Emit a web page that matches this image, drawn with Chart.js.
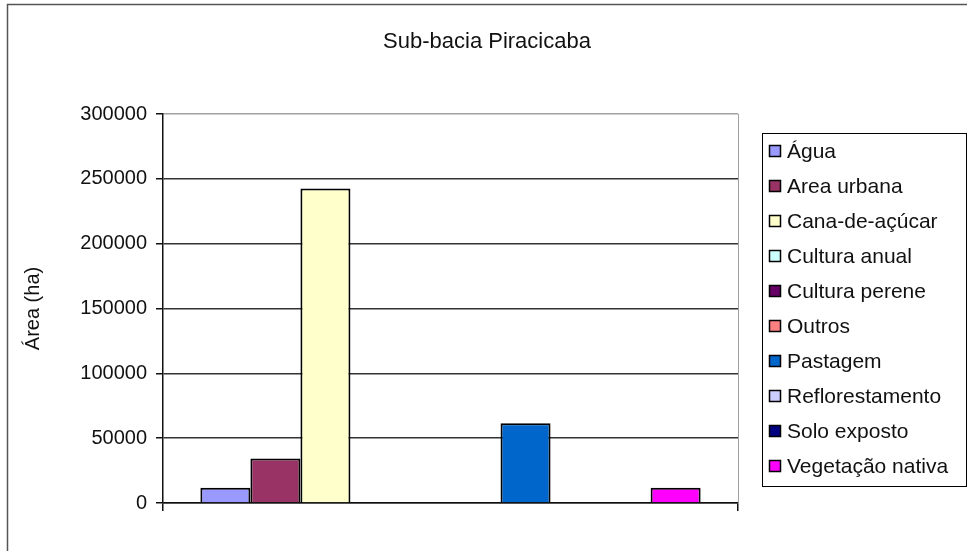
<!DOCTYPE html>
<html>
<head>
<meta charset="utf-8">
<script src="https://cdn.jsdelivr.net/npm/chart.js@4.4.1/dist/chart.umd.min.js"></script>
<style>
  html, body { margin: 0; padding: 0; background: #fff; }
</style>
</head>
<body>
<canvas id="areaChart" width="967" height="551"></canvas>
<script>
  // Uso do solo na sub-bacia (área em hectares)
  const categorias = ['Piracicaba'];
  const classes = ['Água', 'Area urbana', 'Cana-de-açúcar', 'Cultura anual', 'Cultura perene',
                   'Outros', 'Pastagem', 'Reflorestamento', 'Solo exposto', 'Vegetação nativa'];
  const areas = [11700, 34300, 242500, 0, 0, 0, 61500, 0, 0, 11700];
  const cores = ['#9999ff', '#993366', '#ffffcc', '#ccffff', '#660066',
                 '#ff8080', '#0066cc', '#ccccff', '#000080', '#ff00ff'];
  const ticksY = [0, 50000, 100000, 150000, 200000, 250000, 300000];

  const fonte = '"Liberation Sans", Arial, sans-serif';

  // título, moldura e legenda desenhados à mão
  const moldura = {
    id: 'moldura',
    beforeDraw(chart) {
      const c = chart.ctx;
      c.save();
      c.fillStyle = '#fff';
      c.fillRect(0, 0, chart.width, chart.height);
      c.restore();
    },
    afterDraw(chart) {
      const c = chart.ctx;
      const area = chart.chartArea;
      c.save();

      // borda externa
      c.strokeStyle = '#555';
      c.lineWidth = 1.5;
      c.beginPath();
      c.moveTo(7.5, chart.height + 5);
      c.lineTo(7.5, 4.5);
      c.lineTo(chart.width + 5, 4.5);
      c.stroke();

      // lado direito da área de plotagem
      c.strokeStyle = '#a0a0a0';
      c.lineWidth = 1;
      c.beginPath();
      c.moveTo(area.right + 0.5, area.top);
      c.lineTo(area.right + 0.5, area.bottom);
      c.stroke();

      // título
      c.fillStyle = '#111';
      c.font = '22px ' + fonte;
      c.textAlign = 'center';
      c.textBaseline = 'middle';
      c.fillText('Sub-bacia Piracicaba', 487, 42);

      // legenda
      const lx = 762, ly = 133, lw = 204, lh = 353;
      c.strokeStyle = '#000';
      c.lineWidth = 1;
      c.strokeRect(lx + 0.5, ly + 0.5, lw, lh);
      c.font = '21px ' + fonte;
      c.textAlign = 'left';
      chart.data.datasets.forEach((ds, i) => {
        const y = Math.round(150.5 + i * 35.1);
        c.fillStyle = ds.backgroundColor;
        c.fillRect(769, y - 6, 12, 12);
        c.lineWidth = 1.5;
        c.strokeRect(769.5, y - 5.5, 11, 11);
        c.fillStyle = '#111';
        c.fillText(ds.label, 787, y + 1);
      });
      c.restore();
    }
  };

  const ctx = document.getElementById('areaChart').getContext('2d');
  const areaChart = new Chart(ctx, {
    type: 'bar',
    data: {
      labels: categorias,
      datasets: classes.map((nome, i) => ({
        label: nome,
        data: [areas[i]],
        backgroundColor: cores[i],
        borderColor: '#000',
        borderWidth: 2,
        categoryPercentage: 0.87,
        barPercentage: 1
      }))
    },
    options: {
      responsive: false,
      animation: false,
      layout: {
        padding: { top: 114, right: 229, bottom: 0, left: 0 }
      },
      plugins: {
        legend: { display: false },
        title: { display: false },
        tooltip: { enabled: false }
      },
      scales: {
        x: {
          ticks: { display: false },
          grid: {
            drawOnChartArea: false,
            drawTicks: true,
            tickLength: 8,
            color: '#111',
            lineWidth: 1.5
          },
          border: { color: '#111', width: 1.5 },
          afterFit(scale) { scale.height = 48; }
        },
        y: {
          min: ticksY[0],
          max: ticksY[ticksY.length - 1],
          ticks: {
            stepSize: ticksY[1] - ticksY[0],
            color: '#111',
            padding: 9,
            font: { family: fonte, size: 20 },
            callback: (v) => String(v)
          },
          grid: {
            color: (c) => c.tick && c.tick.value === ticksY[ticksY.length - 1] ? '#a0a0a0' : '#333',
            tickColor: '#111',
            tickLength: 7,
            lineWidth: 1.5
          },
          border: { color: '#111', width: 1.5 },
          title: {
            display: true,
            text: 'Área (ha)',
            color: '#111',
            font: { family: fonte, size: 20 },
            padding: { top: 21, bottom: 0 }
          },
          afterFit(scale) { scale.width = 163; }
        }
      }
    },
    plugins: [moldura]
  });
</script>
</body>
</html>
